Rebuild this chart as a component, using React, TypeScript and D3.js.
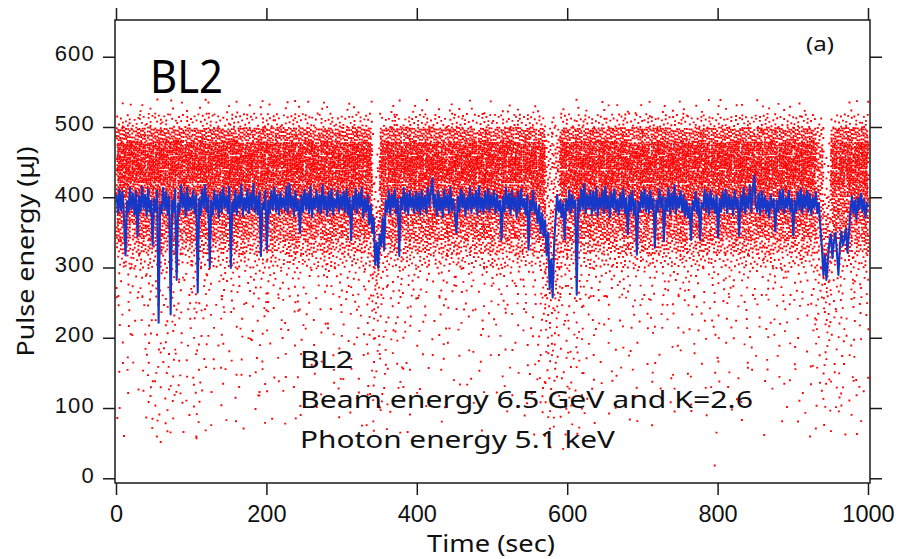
import React, { useMemo } from "react";
import * as d3 from "d3";

// ---------- data ----------
// Blue trace (moving average), one value every 2 s from 0 to 1000 s
const blueStepSec = 2;
const blueValues: number[] = [
  // 0 - 98 s
  405, 378, 412, 382, 408, 372, 318, 395, 380, 414, 384, 406, 376, 410, 345, 402, 380, 416, 385, 404, 374, 412, 380, 396, 332,
  398, 382, 410, 222, 390, 378, 414, 384, 408, 376, 402, 234, 396, 380, 412, 283, 392, 380, 418, 386, 406, 374, 414, 382, 400,
  // 100 - 198 s
  384, 410, 378, 404, 265, 398, 376, 412, 386, 418, 380, 402, 302, 396, 376, 410, 384, 404, 372, 408, 380, 414, 386, 402, 378,
  416, 300, 394, 380, 410, 376, 404, 386, 418, 374, 400, 382, 412, 378, 406, 384, 420, 380, 402, 376, 408, 317, 392, 384, 410,
  // 200 - 298 s
  326, 396, 378, 410, 384, 414, 380, 404, 376, 408, 386, 400, 382, 416, 378, 420, 386, 402, 374, 410, 382, 396, 350, 404, 380,
  412, 384, 406, 378, 416, 372, 400, 386, 410, 380, 404, 378, 418, 384, 402, 374, 408, 382, 412, 376, 398, 386, 410, 380, 404,
  // 300 - 398 s
  384, 408, 380, 412, 376, 400, 340, 402, 384, 412, 378, 406, 386, 414, 372, 398, 380, 404, 362, 390, 350, 372, 305, 336, 300,
  348, 332, 372, 326, 396, 380, 410, 376, 404, 386, 412, 378, 398, 317, 400, 384, 414, 380, 406, 376, 410, 386, 402, 378, 408,
  // 400 - 498 s
  382, 406, 376, 410, 384, 402, 378, 414, 388, 408, 428, 386, 404, 374, 410, 382, 400, 372, 412, 386, 404, 378, 414, 382, 398,
  376, 350, 402, 380, 412, 386, 406, 374, 400, 384, 414, 378, 404, 386, 410, 376, 416, 382, 400, 378, 408, 384, 412, 380, 404,
  // 500 - 598 s
  386, 410, 378, 404, 382, 396, 340, 402, 380, 414, 386, 406, 376, 410, 384, 400, 372, 408, 380, 412, 386, 398, 376, 404, 326,
  396, 382, 410, 378, 392, 364, 388, 350, 378, 345, 368, 318, 350, 270, 312, 258, 336, 372, 404, 380, 396, 372, 392, 341, 398,
  // 600 - 698 s
  382, 410, 378, 404, 386, 396, 262, 398, 380, 412, 384, 420, 378, 404, 386, 410, 376, 408, 382, 414, 374, 400, 386, 410, 378,
  416, 384, 402, 372, 408, 386, 412, 380, 398, 376, 406, 384, 412, 378, 400, 348, 404, 382, 410, 376, 396, 319, 394, 380, 408,
  // 700 - 798 s
  386, 412, 380, 404, 378, 410, 384, 398, 329, 396, 380, 412, 386, 402, 338, 400, 382, 414, 376, 406, 384, 418, 378, 402, 386,
  410, 380, 404, 374, 396, 372, 388, 340, 396, 382, 408, 378, 398, 340, 392, 386, 412, 380, 406, 376, 410, 384, 400, 378, 404,
  // 800 - 898 s
  343, 398, 380, 408, 386, 412, 378, 404, 384, 400, 376, 410, 386, 398, 346, 404, 382, 414, 378, 402, 386, 418, 380, 408, 432,
  392, 380, 406, 376, 410, 384, 402, 378, 396, 372, 404, 386, 398, 352, 396, 380, 410, 384, 412, 378, 400, 386, 410, 380, 398,
  // 900 - 1000 s
  346, 396, 380, 408, 384, 412, 378, 404, 386, 410, 380, 406, 376, 400, 386, 408, 378, 392, 358, 330, 290, 318, 283, 312, 336,
  348, 314, 338, 350, 322, 290, 330, 352, 332, 342, 356, 322, 350, 380, 402, 378, 396, 370, 400, 384, 406, 380, 398, 372, 392,
  388,
];

// Red shots: dot counts per 10 s column (one string per column, 0-1000 s),
// each character (base 36) = number of shots in a 20 µJ band, bands from 0-20 µJ up to 520-540 µJ
const redColumnSec = 10;
const redBandUJ = 20;
const redDensity: string[] = [
  "0000110111112225afhilprpg51", "0001001110211226bgijmqsqh61", "00000010101112259eghkoqof40", "0000101101112235aghilqrph52",
  "0001122121222336bfikmprog61", "0011212212122336bgijmqsqh61", "00021112222132359egikoroh50", "0001122121222335afhjlqsqf42",
  "0001012111122235afhilprpg51", "0000110111112225afiimprpg51", "00112122121223359eghkoqof40", "0001012111122235aghilqrph52",
  "0001001110211226bfikmprog61", "00000101010111259egikoroh50", "0000101101112235afhjlqsqf42", "0000110111112226bgijmqsqh61",
  "0001001110211225afiimprpg51", "0000000101101225afhilprpg51", "00001101111122259eghkoqof40", "0001012111122235aghilqrph52",
  "0000101101112236bfikmprog61", "00000010101112259egikoroh50", "0001001110211225afhjlqsqf42", "0000101001012126bgijmqsqh61",
  "0000110111112225afiimprpg51", "0000000010111125afhilprpg51", "00000101010111259eghkoqof40", "0000001010111225aghilqrph52",
  "0001001110211226bfikmprog61", "00001011011122359egikoroh50", "0000000101101225afhjlqsqf42", "0000110111112226bgijmqsqh61",
  "0001001110211225afiimprpg51", "0001012111122235afhilprpg51", "000112122334568bdc963322100", "00011221212223359eghkoqof40",
  "0000110111112225aghilqrph52", "0001012111122236bfikmprog61", "00010011102112259egikoroh50", "0000101101112235afhjlqsqf42",
  "0000001010111225afhilprpg51", "0000010101011126bgijmqsqh61", "0000000010111125afiimprpg51", "00001101111122259eghkoqof40",
  "0000000101101225aghilqrph52", "0000001010111226bfikmprog61", "00001010010121259egikoroh50", "0000010101011125afhjlqsqf42",
  "0001001110211225afhilprpg51", "0000000010111126bgijmqsqh61", "00000010101112259eghkoqof40", "0000101101112235afiimprpg51",
  "0000010101011125aghilqrph52", "0000000101101226bfikmprog61", "00001101111122259egikoroh50", "0001001110211225afhjlqsqf42",
  "0001122121222335afhilprpg51", "001121223344579bcb976787510", "0001121222334579aa9889a9620", "0011212212122336bgijmqsqh61",
  "00011221212223359eghkoqof40", "0002111222213235aghilqrph52", "0000110111112226bfikmprog61", "00010011102112259egikoroh50",
  "0000001010111225afhjlqsqf42", "0000101101112235afiimprpg51", "0000010101011125afhilprpg51", "0000000101101226bgijmqsqh61",
  "00001101111122259eghkoqof40", "0000101001012125aghilqrph52", "0000000010111126bfikmprog61", "00010011102112259egikoroh50",
  "0000001010111225afhjlqsqf42", "0000010101011125afiimprpg51", "0000101101112235afhilprpg51", "0000000101101226bgijmqsqh61",
  "00001101111122259eghkoqof40", "0000000010111125aghilqrph52", "0000101001012126bfikmprog61", "10010011102112259egikoroh50",
  "0000001010111225afhjlqsqf42", "0000101101112235afiimprpg51", "0000010101011125afhilprpg51", "0000110111112226bgijmqsqh61",
  "00000001011012259eghkoqof40", "0000000010111125aghilqrph52", "0001001110211226bfikmprog61", "00000010101112259egikoroh50",
  "0000101101112235afhjlqsqf42", "0000010101011125afiimprpg51", "0000110111112225afhilprpg51", "0000101001012126bgijmqsqh61",
  "00010011102112259eghkoqof40", "00010121112233458bcddefe920", "000112122334557acca74332100", "00010121111222359eghkoqof40",
  "00011221212223359egikoroh50", "0000110111112225aghilqrph52", "0001012111122235afhilprpg51", "0000101101112236bgijmqsqh61",
];

const xTicks = [0, 200, 400, 600, 800, 1000];
const yTicks = [0, 100, 200, 300, 400, 500, 600];
const annotationLines = ["BL2", "Beam energy 6.5 GeV and K=2.6", "Photon energy 5.1 keV"];

// ---------- layout ----------
const W = 898;
const H = 559;
const frame = { left: 115, right: 870, top: 20, bottom: 483 };
const labelFont = "'Noto Sans', 'DejaVu Sans', sans-serif";
const tickFont = "'Liberation Sans', Arial, sans-serif";

// integer hash -> [0,1), used only to place dots inside their density cell
function cellPhase(n: number): number {
  let h = n | 0;
  h = (h ^ 61) ^ (h >>> 16);
  h = h + (h << 3);
  h = h ^ (h >>> 4);
  h = Math.imul(h, 0x27d4eb2d);
  h = h ^ (h >>> 15);
  return (h >>> 0) / 4294967296;
}

export default function App() {
  const x = d3.scaleLinear().domain([-2, 1002]).range([frame.left, frame.right]);
  const y = d3.scaleLinear().domain([-6, 653]).range([frame.bottom, frame.top]);

  const redPath = useMemo(() => {
    const a1 = 0.7548776662466927;
    const a2 = 0.5698402909980532;
    const frac = (v: number) => v - Math.floor(v);
    const s = 1.9;
    let d = "";
    redDensity.forEach((col, c) => {
      for (let k = 0; k < col.length; k++) {
        const n = parseInt(col[k], 36);
        const cell = c * 27 + k;
        const p1 = cellPhase(cell * 2 + 1);
        const p2 = cellPhase(cell * 2 + 2);
        for (let j = 0; j < n; j++) {
          const u = frac(p1 + j * a1);
          const v = frac(p2 + j * a2);
          const t = c * redColumnSec + u * redColumnSec;
          const val = k * redBandUJ + v * redBandUJ;
          const px = x(t) - s / 2;
          const py = y(val) - s / 2;
          d += `M${px.toFixed(2)},${py.toFixed(2)}h${s}v${s}h-${s}z`;
        }
      }
    });
    return d;
  }, []);

  const bluePath = useMemo(() => {
    const line = d3
      .line<number>()
      .x((_, i) => x(i * blueStepSec))
      .y((v) => y(v));
    return line(blueValues) || "";
  }, []);

  const stroke = "#1a1a1a";
  const sw = 1.5;
  const tickLen = 12;

  return (
    <svg width={W} height={H} style={{ display: "block", position: "absolute", left: 0, top: 0, background: "#fff" }}>
      <defs>
        <clipPath id="plotClip">
          <rect x={frame.left} y={frame.top} width={frame.right - frame.left} height={frame.bottom - frame.top} />
        </clipPath>
      </defs>
      <rect x={0} y={0} width={W} height={H} fill="#fff" />

      <g clipPath="url(#plotClip)">
        <path d={redPath} fill="#ff0000" />
        <path d={bluePath} fill="none" stroke="#1538c8" strokeWidth={2.1} strokeLinejoin="round" />
      </g>

      {/* frame */}
      <rect
        x={frame.left}
        y={frame.top}
        width={frame.right - frame.left}
        height={frame.bottom - frame.top}
        fill="none"
        stroke={stroke}
        strokeWidth={sw}
      />

      {/* x ticks bottom and top */}
      {xTicks.map((t) => (
        <g key={"xt" + t}>
          <line x1={x(t)} x2={x(t)} y1={frame.bottom} y2={frame.bottom + tickLen} stroke={stroke} strokeWidth={sw} />
          <line x1={x(t)} x2={x(t)} y1={frame.top} y2={frame.top - tickLen} stroke={stroke} strokeWidth={sw} />
          <text x={x(t)} y={521.5} textAnchor="middle" fontFamily={tickFont} fontSize={23.5} fill="#111">
            {t}
          </text>
        </g>
      ))}

      {/* y ticks left and right */}
      {yTicks.map((v) => (
        <g key={"yt" + v}>
          <line x1={frame.left - tickLen} x2={frame.left} y1={y(v)} y2={y(v)} stroke={stroke} strokeWidth={sw} />
          <line x1={frame.right} x2={frame.right + tickLen} y1={y(v)} y2={y(v)} stroke={stroke} strokeWidth={sw} />
          <text x={95} y={y(v) + 4} textAnchor="end" fontFamily={tickFont} fontSize={22} letterSpacing={1.2} fill="#111">
            {v}
          </text>
        </g>
      ))}

      {/* axis titles */}
      <text
        x={491}
        y={551.5}
        textAnchor="middle"
        fontFamily={labelFont}
        fontSize={23}
        fill="#111"
        textLength={128}
        lengthAdjust="spacingAndGlyphs"
      >
        Time (sec)
      </text>
      <text
        transform={`translate(34,${251.5}) rotate(-90)`}
        textAnchor="middle"
        fontFamily={labelFont}
        fontSize={23}
        fill="#111"
        textLength={210}
        lengthAdjust="spacingAndGlyphs"
      >
        Pulse energy (μJ)
      </text>

      {/* panel labels */}
      <text x={150} y={92.7} fontFamily={labelFont} fontSize={45} fill="#000" textLength={73} lengthAdjust="spacingAndGlyphs">
        BL2
      </text>
      <text x={806} y={51} fontFamily={labelFont} fontSize={19} fill="#111" textLength={28} lengthAdjust="spacingAndGlyphs">
        (a)
      </text>

      {/* annotation */}
      {annotationLines.map((s, i) => (
        <text
          key={s}
          x={300}
          y={368.3 + i * 40}
          fontFamily={labelFont}
          fontSize={23.5}
          fill="#111"
          textLength={[53, 453, 315][i]}
          lengthAdjust="spacingAndGlyphs"
        >
          {s}
        </text>
      ))}
    </svg>
  );
}
